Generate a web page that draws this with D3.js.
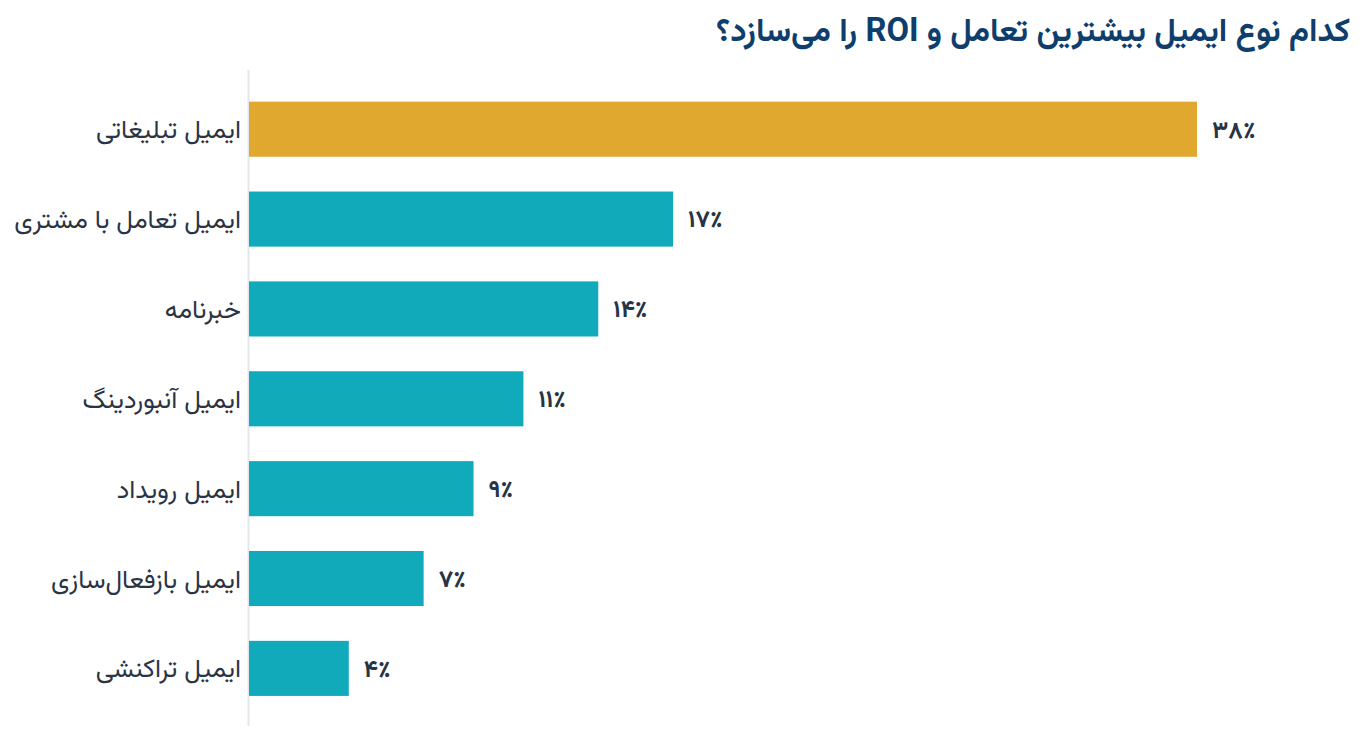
<!DOCTYPE html>
<html lang="fa" dir="rtl">
<head>
<meta charset="utf-8">
<script src="https://cdn.jsdelivr.net/npm/d3@7"></script>
<style>
html,body{margin:0;padding:0;background:#fff;}
svg{display:block;}
text{font-family:"Vazirmatn","Noto Sans Arabic","DejaVu Sans",sans-serif;}
</style>
</head>
<body>
<svg id="chart" width="1365" height="741"></svg>
<script>
const categories = ["ایمیل تبلیغاتی","ایمیل تعامل با مشتری","خبرنامه","ایمیل آنبوردینگ","ایمیل رویداد","ایمیل بازفعال‌سازی","ایمیل تراکنشی"];
const values = [38,17,14,11,9,7,4];
const valueLabels = ["۳۸٪","۱۷٪","۱۴٪","۱۱٪","۹٪","۷٪","۴٪"];
const title = "کدام نوع ایمیل بیشترین تعامل و ROI را می‌سازد؟";

const svg = d3.select("#chart");
const x = d3.scaleLinear().domain([0,38]).range([249,1197]);
const y = d3.scaleBand().domain(categories).range([84.6,713]).paddingInner(0.387).paddingOuter(0.19);

svg.append("text")
  .attr("x",1350).attr("y",41)
  .attr("text-anchor","start")
  .attr("direction","rtl")
  .attr("font-size",32.7).attr("font-weight","bold")
  .attr("fill","#0f3e6c")
  .text(title);

svg.append("line")
  .attr("x1",248.5).attr("x2",248.5).attr("y1",70).attr("y2",726)
  .attr("stroke","#e3e7ec").attr("stroke-width",2);

svg.selectAll("rect.bar").data(categories).enter().append("rect")
  .attr("class","bar")
  .attr("x",x(0)).attr("y",d=>y(d))
  .attr("width",(d,i)=>x(values[i])-x(0))
  .attr("height",y.bandwidth())
  .attr("fill",(d,i)=>i===0?"#e0a82e":"#10aabb");

svg.selectAll("text.cat").data(categories).enter().append("text")
  .attr("class","cat")
  .attr("x",241).attr("y",d=>y(d)+y.bandwidth()/2)
  .attr("dy","0.35em")
  .attr("text-anchor","start")
  .attr("direction","rtl")
  .attr("font-size",26)
  .attr("fill","#2a3444")
  .text(d=>d);

svg.selectAll("text.val").data(values).enter().append("text")
  .attr("class","val")
  .attr("x",(d)=>x(d)+15).attr("y",(d,i)=>y(categories[i])+y.bandwidth()/2)
  .attr("dy","0.35em")
  .attr("text-anchor","start")
  .attr("direction","ltr")
  .attr("font-size",24).attr("font-weight","bold")
  .attr("fill","#263445")
  .text((d,i)=>valueLabels[i]);
</script>
</body>
</html>
